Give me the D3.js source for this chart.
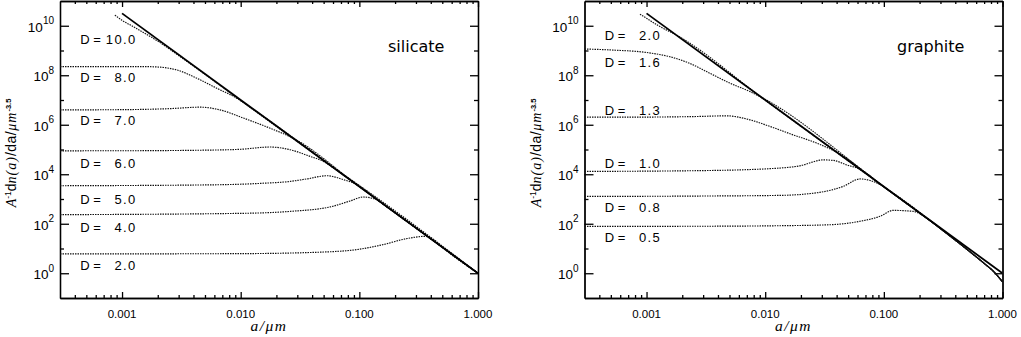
<!DOCTYPE html>
<html><head><meta charset="utf-8">
<script src="https://cdn.jsdelivr.net/npm/d3@7"></script>
<style>body{margin:0;background:#fff}svg{display:block}</style>
</head><body><svg id="c" width="1021" height="337"></svg>
<script>
// ---------- data ----------
const xTickValues = [0.001, 0.01, 0.1, 1];
const xTickLabels = ["0.001", "0.010", "0.100", "1.000"];
const yTickExponents = [0, 2, 4, 6, 8, 10];
const yMinorExponents = [1, 3, 5, 7, 9];
const panelNames = ["silicate", "graphite"];
const powerLaw = [[0.001, 3.16e10], [1, 1]];

const silicateD = ["10.0", "8.0", "7.0", "6.0", "5.0", "4.0", "2.0"];
const silicateLabelY = [1.83e9, 5.33e7, 9.77e5, 1.79e4, 628, 46.4, 1.35];
const silD10 = [[0.00087, 2.7e10], [0.001, 1.66e10], [0.00126, 8.9e9], [0.00158, 4.7e9], [0.002, 2.4e9], [0.00316, 5.25e8], [0.01, 9.5e6], [0.1, 3160], [1, 1]];
const silD8 = [[0.0003, 2.24e8], [0.001, 2.24e8], [0.0016, 2.23e8], [0.0021, 2.12e8], [0.00289, 1.64e8], [0.00427, 7.57e7], [0.00628, 2.99e7], [0.00927, 1.18e7], [0.0126, 4.37e6], [0.1, 3160], [1, 1]];
const silD7 = [[0.0003, 3.98e6], [0.001, 4.07e6], [0.00251, 4.47e6], [0.00455, 5.13e6], [0.0067, 3.98e6], [0.01055, 1.86e6], [0.0177, 7.24e5], [0.0278, 2.82e5], [0.1, 3160], [1, 1]];
const silD6 = [[0.0003, 8.85e4], [0.001, 8.9e4], [0.005, 9.4e4], [0.01, 1.02e5], [0.0177, 1.26e5], [0.0261, 9.77e4], [0.0385, 5.25e4], [0.0498, 3.31e4], [0.063, 1.58e4], [1, 1]];
const silD5 = [[0.0003, 3440], [0.005, 3700], [0.015, 4300], [0.0261, 5130], [0.0361, 6460], [0.0532, 8710], [0.0735, 6030], [0.0953, 3800], [0.126, 1410], [1, 1]];
const silD4 = [[0.0003, 233], [0.01, 263], [0.0261, 316], [0.0568, 479], [0.0836, 832], [0.108, 1200], [0.14, 933], [0.171, 480], [0.251, 126], [1, 1]];
const silD2 = [[0.0003, 6.03], [0.01, 6.2], [0.05, 7.2], [0.1, 9.33], [0.16, 14.5], [0.251, 25.1], [0.359, 30.9], [0.422, 22.9], [0.5, 11.2], [1, 1]];
const silicateCurves = [silD10, silD8, silD7, silD6, silD5, silD4, silD2];

const graphiteD = ["2.0", "1.6", "1.3", "1.0", "0.8", "0.5"];
const graphiteLabelY = [2.54e9, 2.06e8, 2.48e6, 1.79e4, 307, 18.8];
const graTail = [[0.316, 52.5], [0.5, 9.33], [0.708, 2.4], [0.838, 1.2], [1, 0.45]];
const graD20 = [[0.00088, 2.95e10], [0.001, 2.0e10], [0.00126, 1e10], [0.00179, 4.17e9], [0.01, 9.77e6], [0.1, 3090]].concat(graTail);
const graD16 = [[0.0003, 1.15e9], [0.0005, 1.05e9], [0.001, 8.3e8], [0.00157, 5.6e8], [0.00232, 3.0e8], [0.00342, 1.2e8], [0.00504, 4.8e7], [0.00743, 2.19e7], [0.00962, 1.17e7], [0.1, 3090]].concat(graTail);
const graD13 = [[0.0003, 2.02e6], [0.001, 2.04e6], [0.00251, 2.14e6], [0.00473, 2.29e6], [0.00743, 1.58e6], [0.011, 8.5e5], [0.0172, 3.9e5], [0.0271, 1.82e5], [0.04, 7.76e4], [0.1, 3090]].concat(graTail);
const graD10 = [[0.0003, 1.3e4], [0.00316, 1.41e4], [0.0133, 1.78e4], [0.0196, 2.19e4], [0.0308, 3.8e4], [0.0374, 3.63e4], [0.0485, 2.4e4], [0.0631, 1.58e4], [0.1, 3090]].concat(graTail);
const graD08 = [[0.0003, 1270], [0.00316, 1320], [0.0133, 1400], [0.0289, 1860], [0.0455, 3240], [0.0631, 6460], [0.0766, 5620], [0.0929, 3800], [0.113, 2090]].concat(graTail);
const graD05 = [[0.0003, 78], [0.00316, 79.4], [0.0133, 83.2], [0.0352, 91.2], [0.0631, 126], [0.0929, 200], [0.12, 347], [0.177, 316], [0.229, 170], [0.279, 87]].concat(graTail);
const graphiteCurves = [graD20, graD16, graD13, graD10, graD08, graD05];

const labelA = 0.00044;

// ---------- layout ----------
const panels = [
  {left: 60, right: 478, name: panelNames[0], curves: silicateCurves, d: silicateD, ly: silicateLabelY, nameX: 388},
  {left: 584.5, right: 1002.5, name: panelNames[1], curves: graphiteCurves, d: graphiteD, ly: graphiteLabelY, nameX: 897}
];
const plotTop = 1, plotBottom = 298;
const svg = d3.select("#c");

function minorTicks(lo, hi) {
  const out = [];
  for (let e = -4; e <= 0; e++) for (let k = 2; k <= 9; k++) {
    const v = k * Math.pow(10, e);
    if (v > lo * 1.01 && v < hi) out.push(v);
  }
  return out;
}

panels.forEach((p, pi) => {
  const x = d3.scaleLog().domain([0.0003, 1]).range([p.left, p.right]);
  const y = d3.scaleLog().domain([0.1, 1e11]).range([plotBottom, plotTop]);
  const g = svg.append("g");
  const cid = "clip" + pi;
  svg.append("clipPath").attr("id", cid).append("rect")
    .attr("x", p.left).attr("y", plotTop).attr("width", p.right - p.left).attr("height", plotBottom - plotTop);

  const xMinor = minorTicks(0.0003, 1);
  const yMaj = yTickExponents.map(e => Math.pow(10, e));
  const yMin = yMinorExponents.map(e => Math.pow(10, e));

  const styleAxis = sel => { sel.selectAll("path,line").attr("stroke", "#000").attr("stroke-width", 1.3); sel.selectAll("text").remove(); };

  g.append("g").attr("transform", `translate(0,${plotBottom})`)
    .call(d3.axisBottom(x).tickValues(xTickValues).tickSizeInner(-6).tickSizeOuter(0)).call(styleAxis);
  g.append("g").attr("transform", `translate(0,${plotBottom})`)
    .call(d3.axisBottom(x).tickValues(xMinor).tickSizeInner(-3).tickSizeOuter(0)).call(styleAxis);
  g.append("g").attr("transform", `translate(0,${plotTop})`)
    .call(d3.axisTop(x).tickValues(xTickValues).tickSizeInner(-6).tickSizeOuter(0)).call(styleAxis);
  g.append("g").attr("transform", `translate(0,${plotTop})`)
    .call(d3.axisTop(x).tickValues(xMinor).tickSizeInner(-3).tickSizeOuter(0)).call(styleAxis);
  g.append("g").attr("transform", `translate(${p.left},0)`)
    .call(d3.axisLeft(y).tickValues(yMaj).tickSizeInner(-9).tickSizeOuter(0)).call(styleAxis);
  g.append("g").attr("transform", `translate(${p.left},0)`)
    .call(d3.axisLeft(y).tickValues(yMin).tickSizeInner(-4).tickSizeOuter(0)).call(styleAxis);
  g.append("g").attr("transform", `translate(${p.right},0)`)
    .call(d3.axisRight(y).tickValues(yMaj).tickSizeInner(-8).tickSizeOuter(0)).call(styleAxis);
  g.append("g").attr("transform", `translate(${p.right},0)`)
    .call(d3.axisRight(y).tickValues(yMin).tickSizeInner(-4).tickSizeOuter(0)).call(styleAxis);

  // x tick labels
  g.selectAll("text.xt").data(xTickValues).enter().append("text")
    .attr("x", d => x(d)).attr("y", 318).attr("text-anchor", "middle")
    .attr("font-family", "Liberation Sans, Arial, sans-serif").attr("font-size", 11.5)
    .text((d, i) => xTickLabels[i]);

  // y tick labels
  yTickExponents.forEach(e => {
    const t = g.append("text").attr("x", p.left - 6).attr("y", y(Math.pow(10, e)) + 6)
      .attr("text-anchor", "end").attr("font-family", "Liberation Sans, Arial, sans-serif").attr("font-size", 13.5);
    t.append("tspan").text("10");
    t.append("tspan").attr("dy", -7.5).attr("font-size", 10).text(String(e));
  });

  // x label
  g.append("text").attr("x", (p.left + p.right) / 2).attr("y", 331).attr("text-anchor", "middle")
    .attr("font-family", "Liberation Serif, serif").attr("font-style", "italic").attr("font-size", 15.5)
    .attr("letter-spacing", 1.5).text("a/μm");

  // y label
  const yl = g.append("text")
    .attr("transform", `translate(${p.left - 44},153) rotate(-90)`)
    .attr("text-anchor", "middle").attr("font-size", 14).attr("font-family", "Liberation Sans, Arial, sans-serif");
  yl.append("tspan").attr("font-family", "Liberation Serif, serif").attr("font-style", "italic").text("A");
  yl.append("tspan").attr("dy", -5).attr("font-size", 8.5).text("-1");
  yl.append("tspan").attr("dy", 5).text("d");
  yl.append("tspan").attr("font-family", "Liberation Serif, serif").attr("font-style", "italic").attr("letter-spacing", 1).text("n(a)");
  yl.append("tspan").attr("letter-spacing", 0.5).text("/da/");
  yl.append("tspan").attr("font-family", "Liberation Serif, serif").attr("font-style", "italic").attr("letter-spacing", 1).text("μm");
  yl.append("tspan").attr("dy", -5).attr("font-size", 7.5).attr("font-weight", "bold").text("-3.5");

  // curves
  const line = d3.line().x(d => x(d[0])).y(d => y(d[1])).curve(d3.curveMonotoneX);
  const cg = g.append("g").attr("clip-path", `url(#${cid})`);
  cg.selectAll("path.dc").data(p.curves).enter().append("path")
    .attr("d", line).attr("fill", "none").attr("stroke", "#111").attr("stroke-width", 1.15)
    .attr("stroke-dasharray", "1.5 1");
  cg.append("path").datum(powerLaw).attr("d", d3.line().x(d => x(d[0])).y(d => y(d[1])))
    .attr("fill", "none").attr("stroke", "#000").attr("stroke-width", 1.8);

  // D labels
  const x0 = x(labelA);
  p.d.forEach((v, i) => {
    const t = g.append("text").attr("y", y(p.ly[i])).attr("text-anchor", "end")
      .attr("font-family", "Liberation Sans, Arial, sans-serif").attr("font-size", 13);
    t.append("tspan").attr("x", x0 + 21).text("D =");
    t.append("tspan").attr("x", x0 + 57).attr("letter-spacing", 1.4).text(v.length < 4 ? " " + v : v);
  });

  // panel name
  g.append("text").attr("x", p.nameX).attr("y", 51.5).attr("font-family", "DejaVu Sans, sans-serif")
    .attr("font-size", 16).text(p.name);
});
</script></body></html>
